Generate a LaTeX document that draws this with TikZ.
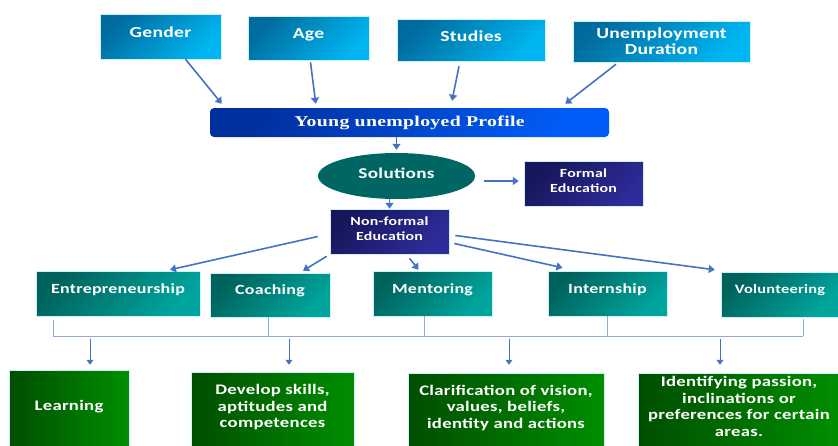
\documentclass[tikz,border=0pt]{standalone}
\usepackage{fontspec}
\newfontfamily\boxfont{Carlito}[FakeStretch=1.28,LetterSpace=2]
\newfontfamily\titlefont{Liberation Serif}[FakeStretch=1.32,LetterSpace=2]
\usetikzlibrary{shapes.geometric, arrows.meta, positioning, calc}

\definecolor{factdark}{RGB}{0,108,158}
\definecolor{factlight}{RGB}{0,182,242}
\definecolor{profdark}{RGB}{0,48,160}
\definecolor{proflight}{RGB}{0,92,246}
\definecolor{solteal}{RGB}{0,102,100}
\definecolor{navydark}{RGB}{22,22,92}
\definecolor{navylight}{RGB}{46,44,152}
\definecolor{tealdark}{RGB}{0,98,92}
\definecolor{teallight}{RGB}{0,166,158}
\definecolor{greendark}{RGB}{0,78,0}
\definecolor{greenlight}{RGB}{0,142,0}
\definecolor{arrowblue}{RGB}{68,114,196}
\definecolor{busblue}{RGB}{143,170,220}

\begin{document}
\begin{tikzpicture}[
    x=1pt, y=-1pt,
    box/.style={rectangle, draw=white!80!cyan, line width=0.5pt, text=white,
                align=center, inner sep=2pt},
    factor/.style={box, top color=factdark, bottom color=factlight, shading angle=45,
                   font=\boxfont\bfseries\fontsize{15.3}{16}\selectfont},
    profile/.style={box, rounded corners=4pt, draw=none, top color=profdark, bottom color=proflight,
                    shading angle=60, font=\titlefont\bfseries\fontsize{15}{17}\selectfont},
    solution/.style={ellipse, fill=solteal, text=white, inner sep=0pt, text depth=6pt,
                     font=\boxfont\bfseries\fontsize{15}{17}\selectfont},
    education/.style={box, top color=navydark, bottom color=navylight, shading angle=45,
                      text depth=6pt, font=\boxfont\bfseries\fontsize{12.4}{14.5}\selectfont},
    method/.style={box, top color=tealdark, bottom color=teallight, shading angle=45,
                   text depth=10pt, font=\boxfont\bfseries\fontsize{14}{16}\selectfont},
    outcome/.style={box, left color=greendark, right color=greenlight, text depth=12pt,
                    font=\boxfont\bfseries\fontsize{14.6}{16.5}\selectfont},
    arrow/.style={-{Triangle[width=8pt,length=6pt]}, arrowblue, line width=1.6pt},
    bus/.style={busblue, line width=1pt},
    drop/.style={-{Triangle[width=7pt,length=5pt]}, arrowblue, line width=0.9pt},
]
\useasboundingbox (0,0) rectangle (838,445);
\clip (0,0) rectangle (838,445);

% ── Row 1: Profile factors ──
\node[factor, minimum width=121pt, minimum height=45pt, text depth=8pt] (gender) at (160.5,36.5) {Gender};
\node[factor, minimum width=121pt, minimum height=44pt, text depth=8pt] (age) at (308.5,38) {Age};
\node[factor, minimum width=148pt, minimum height=42pt, text depth=8pt] (studies) at (471,40) {Studies};
\node[factor, minimum width=177pt, minimum height=41pt] (unemp) at (661.5,41.5) {Unemployment\\Duration};

% ── Row 2: Profile and solutions ──
\node[profile, minimum width=399pt, minimum height=29pt] (profile) at (409.5,122.5) {Young unemployed Profile};
\node[solution, minimum width=157pt, minimum height=46pt] (solutions) at (396.5,176) {Solutions};
\node[education, minimum width=119pt, minimum height=45pt] (formal) at (583.5,183.5) {Formal\\Education};
\node[education, minimum width=119pt, minimum height=45pt] (nonformal) at (389.5,231.5) {Non-formal\\Education};

% ── Row 3: Non-formal methods ──
\node[method, minimum width=164pt, minimum height=45pt] (entre) at (118,293.5) {Entrepreneurship};
\node[method, minimum width=120pt, minimum height=44pt] (coach) at (270,295) {Coaching};
\node[method, minimum width=119pt, minimum height=45pt] (mentor) at (432.5,293.5) {Mentoring};
\node[method, minimum width=119pt, minimum height=45pt] (intern) at (607.5,293.5) {Internship};
\node[method, minimum width=118pt, minimum height=45pt, font=\boxfont\bfseries\fontsize{12.8}{15}\selectfont] (volunt) at (780,294.5) {Volunteering};

% ── Row 4: Outcomes ──
\node[outcome, minimum width=120pt, minimum height=82pt] (learn) at (69,411) {Learning};
\node[outcome, minimum width=163pt, minimum height=80pt] (skills) at (272.5,412) {Develop skills,\\aptitudes and\\competences};
\node[outcome, minimum width=196pt, minimum height=79pt] (vision) at (506,412.5) {Clarification of vision,\\values, beliefs,\\identity and actions};
\node[outcome, minimum width=202pt, minimum height=79pt] (passion) at (739,412.5) {Identifying passion,\\inclinations or\\preferences for certain\\areas.};

% ── Arrows ──
\draw[arrow] ([xshift=25pt]gender.south) -- ([xshift=12pt,yshift=4pt]profile.north west);
\draw[arrow] ([xshift=2pt,yshift=-2pt]age.south) -- ([xshift=106pt,yshift=4pt]profile.north west);
\draw[arrow] ([xshift=-12pt,yshift=-5pt]studies.south) -- ([xshift=42.5pt,yshift=7pt]profile.north);
\draw[arrow] ([xshift=-45.5pt,yshift=-2pt]unemp.south) -- ([xshift=-44pt,yshift=4pt]profile.north east);
\draw[arrow, line width=1.2pt, shorten >=3pt] (solutions.north |- profile.south) -- (solutions.north);
\draw[arrow] ([xshift=9pt,yshift=-5pt]solutions.east) -- ([xshift=-5pt,yshift=-5pt]solutions.east -| formal.west);
\draw[arrow, line width=1.2pt] (nonformal.north |- solutions.south) -- (nonformal.north);

\draw[arrow] ([xshift=-12pt,yshift=-5pt]nonformal.west) -- ([xshift=52pt,yshift=1pt]entre.north);
\draw[arrow] ([xshift=-3pt,yshift=-2pt]nonformal.south west) -- ([xshift=33pt,yshift=2pt]coach.north);
\draw[arrow] ([xshift=20pt,yshift=-4pt]nonformal.south) -- ([xshift=-14pt,yshift=1pt]mentor.north);
\draw[arrow] ([xshift=5pt,yshift=-12pt]nonformal.east) -- ([xshift=-45pt,yshift=3pt]intern.north);
\draw[arrow] ([xshift=6pt,yshift=-4pt]nonformal.east) -- ([xshift=-6pt,yshift=2pt]volunt.north west);

% ── Bus to outcomes ──
\coordinate (b1) at (53,336);
\coordinate (b2) at (268,336);
\coordinate (b3) at (424,336);
\coordinate (b4) at (607,336);
\coordinate (b5) at (803,336);
\draw[bus] (b1) -- (b5);
\draw[bus] ([yshift=-4pt]entre.south -| b1) -- (b1);
\draw[bus] (coach.south -| b2) -- (b2);
\draw[bus] (mentor.south -| b3) -- (b3);
\draw[bus] (intern.south -| b4) -- (b4);
\draw[bus] ([yshift=-2pt]volunt.south -| b5) -- (b5);

\coordinate (d1) at (90,339);
\coordinate (d2) at (289,339);
\coordinate (d3) at (509,339);
\coordinate (d4) at (720,339);
\draw[drop] (d1) -- ([yshift=5pt]learn.north -| d1);
\draw[drop] (d2) -- ([yshift=7pt]skills.north -| d2);
\draw[drop] (d3) -- ([yshift=8pt]vision.north -| d3);
\draw[drop] (d4) -- ([yshift=8pt]passion.north -| d4);

\end{tikzpicture}
\end{document}
